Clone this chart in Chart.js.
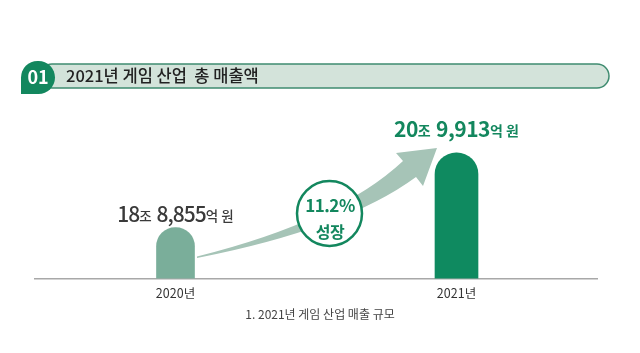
<!DOCTYPE html>
<html lang="ko">
<head>
<meta charset="UTF-8">
<title>2021년 게임 산업 총 매출액</title>
<script src="https://cdn.jsdelivr.net/npm/chart.js"></script>
<style>
  body { margin: 0; background: #fff; }
  #wrap { width: 640px; height: 353px; }
</style>
</head>
<body>
<div id="wrap"><canvas id="c" width="640" height="353"></canvas></div>
<script>
// data
const years = ['2020년', '2021년'];
const sales = [18.8855, 20.9913];   // 조 원
const growthText = ['11.2%', '성장'];
const titleText = '2021년 게임 산업  총 매출액';
const captionText = '1. 2021년 게임 산업 매출 규모';

const FONT = '"Noto Sans CJK KR", "Noto Sans", sans-serif';
const barColors = ['#7aae9a', '#0f8a60'];

function splitWon(v) {
  const jo = Math.floor(v);
  const eok = Math.round((v - jo) * 10000);
  return [String(jo), '조', ' ' + eok.toLocaleString('en-US'), '억 원'];
}

function roundRect(ctx, x, y, w, h, r) {
  ctx.beginPath();
  ctx.roundRect(x, y, w, h, r);
}

const decor = {
  id: 'decor',
  beforeDraw(chart) {
    const ctx = chart.ctx;
    ctx.save();
    // header pill
    roundRect(ctx, 40, 64, 569, 24, 12);
    ctx.fillStyle = '#d3e3da';
    ctx.fill();
    ctx.lineWidth = 1.5;
    ctx.strokeStyle = '#3f8c70';
    ctx.stroke();
    // badge
    roundRect(ctx, 21, 61, 34, 33, [17, 17, 17, 0]);
    ctx.fillStyle = '#13875e';
    ctx.fill();
    ctx.fillStyle = '#fff';
    ctx.font = 'bold 18px ' + FONT;
    ctx.textAlign = 'center';
    ctx.textBaseline = 'middle';
    ctx.fillText('01', 38, 77);
    ctx.fillStyle = '#222';
    ctx.font = '500 16.5px ' + FONT;
    ctx.textAlign = 'left';
    ctx.fillText(titleText, 66, 76);
    // caption
    ctx.fillStyle = '#444';
    ctx.font = '12px ' + FONT;
    ctx.textAlign = 'center';
    ctx.fillText(captionText, 320, 314.5);
    ctx.restore();
  },
  afterDatasetsDraw(chart) {
    const ctx = chart.ctx;
    ctx.save();
    // growth arrow
    ctx.beginPath();
    ctx.moveTo(197, 256.5);
    ctx.quadraticCurveTo(339, 221, 403, 161);
    ctx.lineTo(396, 153);
    ctx.lineTo(437, 148);
    ctx.lineTo(423, 186);
    ctx.lineTo(416, 177);
    ctx.quadraticCurveTo(345.6, 228.8, 197, 258);
    ctx.closePath();
    ctx.fillStyle = '#a6c4b7';
    ctx.fill();
    // growth circle
    ctx.beginPath();
    ctx.arc(329.5, 213.5, 32.5, 0, Math.PI * 2);
    ctx.fillStyle = '#fff';
    ctx.fill();
    ctx.lineWidth = 2.5;
    ctx.strokeStyle = '#13875e';
    ctx.stroke();
    ctx.fillStyle = '#13875e';
    ctx.textAlign = 'center';
    ctx.textBaseline = 'middle';
    ctx.letterSpacing = '-0.5px';
    ctx.font = 'bold 17px ' + FONT;
    ctx.fillText(growthText[0], 330, 206);
    ctx.font = 'bold 16px ' + FONT;
    ctx.fillText(growthText[1], 330, 231.5);

    // value labels
    const styles = [
      { big: '21px', small: '13.5px', weight: '500 ', color: '#3a3a3a', gap: 14, ls: '-1px' },
      { big: '21px', small: '14px', weight: 'bold ', color: '#13875e', gap: 23.5, ls: '-0.5px' }
    ];
    chart.data.datasets.forEach((ds, di) => {
      const meta = chart.getDatasetMeta(di);
      meta.data.forEach((bar, i) => {
        if (ds.data[i] == null) return;
        const st = styles[i];
        const parts = splitWon(ds.data[i]);
        const fonts = [st.big, st.small, st.big, st.small].map(s => st.weight + s + ' ' + FONT);
        const spacing = k => (k % 2 === 0 ? st.ls : '0px');
        let total = 0;
        const widths = parts.map((p, k) => {
          ctx.font = fonts[k];
          ctx.letterSpacing = spacing(k);
          const w = ctx.measureText(p).width;
          total += w;
          return w;
        });
        let x = bar.x - total / 2;
        const y = bar.y - st.gap;
        ctx.fillStyle = st.color;
        ctx.textAlign = 'left';
        ctx.textBaseline = 'alphabetic';
        parts.forEach((p, k) => {
          ctx.font = fonts[k];
          ctx.letterSpacing = spacing(k);
          ctx.fillText(p, x, y + (k % 2 === 0 ? 8 : 7));
          x += widths[k];
        });
      });
    });
    ctx.restore();
  }
};

new Chart(document.getElementById('c'), {
  type: 'bar',
  data: {
    labels: years,
    datasets: [
      { data: [sales[0], null], backgroundColor: barColors[0], barThickness: 38, grouped: false,
        borderRadius: { topLeft: 19, topRight: 19 }, borderSkipped: 'bottom' },
      { data: [null, sales[1]], backgroundColor: barColors[1], barThickness: 43, grouped: false,
        borderRadius: { topLeft: 21.5, topRight: 21.5 }, borderSkipped: 'bottom' }
    ]
  },
  options: {
    responsive: false,
    devicePixelRatio: 1,
    animation: false,
    layout: { padding: { top: 100, left: 35, right: 43, bottom: 45.5 } },
    plugins: { legend: { display: false }, tooltip: { enabled: false } },
    scales: {
      x: {
        grid: { display: false, drawTicks: false },
        border: { color: '#a8a8a8', width: 1.5 },
        ticks: { color: '#333', font: { family: FONT, size: 12.5 }, padding: 7 }
      },
      y: { display: false, min: 17.45, max: 22.48 }
    }
  },
  plugins: [decor]
});
</script>
</body>
</html>
